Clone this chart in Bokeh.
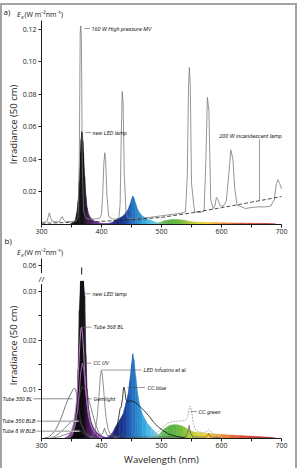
import math
import numpy as np
from bokeh.plotting import figure
from bokeh.layouts import column
from bokeh.models import Label, FixedTicker, NumeralTickFormatter, Range1d, LinearAxis
from bokeh.embed import file_html
from bokeh.resources import INLINE

# ---------------- spectra: wavelength (nm) / irradiance at 50 cm (W m-2 nm-1) ----------------
# 160 W high pressure mercury vapour lamp
mv_wl = [300, 305, 309, 311, 313, 315, 318, 325, 330, 332,
         334.5, 337, 340, 350, 358, 361, 363, 364.5, 365.5, 366.5,
         368, 370, 374, 380, 390, 397, 400, 402, 404, 405.5,
         407, 409, 412, 418, 425, 429, 431, 433, 434.5, 436,
         438, 441, 446, 460, 480, 500, 520, 535, 540, 543,
         545, 546.5, 548, 550, 555, 565, 571, 574, 576.5, 579,
         582, 586, 589, 591.5, 594, 598, 603, 608, 612, 615.5,
         619, 622, 626, 632, 640, 648, 660, 672, 682, 688,
         691, 694, 697, 700]
mv_irr = [0.0010, 0.0010, 0.0015, 0.0040, 0.0068, 0.0040, 0.0016, 0.0012, 0.0014, 0.0030,
          0.0045, 0.0025, 0.0014, 0.0014, 0.0018, 0.0040, 0.0400, 0.1180, 0.1222, 0.1150,
          0.0350, 0.0080, 0.0035, 0.0030, 0.0030, 0.0035, 0.0060, 0.0180, 0.0380, 0.0439,
          0.0380, 0.0180, 0.0045, 0.0030, 0.0030, 0.0040, 0.0120, 0.0550, 0.0817, 0.0750,
          0.0300, 0.0060, 0.0030, 0.0032, 0.0040, 0.0050, 0.0060, 0.0068, 0.0075, 0.0300,
          0.0850, 0.0965, 0.0850, 0.0250, 0.0075, 0.0070, 0.0080, 0.0400, 0.0780, 0.0700,
          0.0150, 0.0095, 0.0110, 0.0163, 0.0150, 0.0110, 0.0110, 0.0140, 0.0300, 0.0457,
          0.0400, 0.0220, 0.0115, 0.0108, 0.0095, 0.0100, 0.0105, 0.0105, 0.0110, 0.0150,
          0.0240, 0.0272, 0.0250, 0.0217]

# 200 W incandescent lamp
inc_wl = [300, 350, 400, 450, 500, 550, 600, 650, 700]
inc_irr = [0.0004, 0.0009, 0.0016, 0.0026, 0.0040, 0.0068, 0.0100, 0.0134, 0.0169]

# new LED lamp (UV)
led_wl = [348, 353, 356, 359, 361, 363, 365, 366, 367, 368, 369, 370, 372, 374, 376, 379, 383, 388, 394, 402, 410]
led_irr = [0, 0.0005, 0.0020, 0.0070, 0.0140, 0.0260, 0.0440, 0.0520, 0.0570, 0.0560, 0.0510,
           0.0440, 0.0290, 0.0170, 0.0100, 0.0055, 0.0032, 0.0018, 0.0009, 0.0003, 0]

# blue LED
blue_wl = [405, 412, 418, 423, 430, 436, 441, 444, 447, 450, 452, 454, 457, 460.5, 464, 468, 475, 482, 488, 495, 502]
blue_irr = [0, 0.0003, 0.0010, 0.0022, 0.0036, 0.0049, 0.0072, 0.0087, 0.0115, 0.0150, 0.0172,
            0.0160, 0.0125, 0.0087, 0.0065, 0.0049, 0.0032, 0.0022, 0.0014, 0.0006, 0]

# green / broad visible LED
green_wl = [490, 495, 500, 505, 510, 515, 520, 525, 530, 535, 540, 545, 550, 555, 560,
            570, 580, 590, 600, 615, 630, 645, 660, 672, 682, 690]
green_irr = [0, 0.0006, 0.0013, 0.0019, 0.0023, 0.0026, 0.0027, 0.0027, 0.0026, 0.0024, 0.0021,
             0.0017, 0.0014, 0.0012, 0.0011, 0.0010, 0.0009, 0.0008, 0.0007, 0.0006, 0.0005,
             0.0004, 0.0003, 0.0002, 0.0001, 0]

# Tube 368 BL
t368_wl = [338, 344, 349, 353, 357, 360, 362, 364, 365.5, 367, 368.5, 370, 372, 374, 377, 380, 384, 389, 395, 402]
t368_irr = [0, 0.0004, 0.0012, 0.0028, 0.0060, 0.0100, 0.0145, 0.0195, 0.0222, 0.0226,
            0.0210, 0.0180, 0.0135, 0.0095, 0.0058, 0.0036, 0.0020, 0.0010, 0.0004, 0]

# CC UV
ccuv_wl = [345, 351, 356, 360, 363, 365.5, 368, 370.5, 373, 376, 379, 383, 388, 394, 400]
ccuv_irr = [0, 0.0008, 0.0025, 0.0055, 0.0095, 0.0135, 0.0153, 0.0140, 0.0105, 0.0068,
            0.0044, 0.0025, 0.0012, 0.0004, 0]

# Gemlight
gem_wl = [340, 348, 354, 359, 363, 367, 371, 375, 378, 382, 386, 390, 395, 400, 403, 405, 407,
          410, 430, 434, 436, 438, 442, 540, 544, 546, 548, 552, 574, 577, 578.5, 580, 583, 600]
gem_irr = [0, 0.0006, 0.0020, 0.0050, 0.0085, 0.0105, 0.0102, 0.0092, 0.0082, 0.0064, 0.0045,
           0.0028, 0.0012, 0.0006, 0.0012, 0.0020, 0.0012, 0.0005, 0.0003, 0.0006, 0.0010,
           0.0006, 0.0002, 0.0002, 0.0012, 0.0026, 0.0012, 0.0002, 0.0002, 0.0005, 0.0009,
           0.0005, 0.0002, 0]

# Tube 350 BL
t350_wl = [305, 312, 318, 324, 329, 334, 340, 344, 348, 352, 355, 357, 359, 362, 365, 368, 372, 378, 386]
t350_irr = [0, 0.0002, 0.0008, 0.0018, 0.0030, 0.0045, 0.0066, 0.0078, 0.0088, 0.0098,
            0.0102, 0.0099, 0.0085, 0.0060, 0.0036, 0.0020, 0.0010, 0.0004, 0]

# Tube 350 BLB
t350b_wl = [315, 322, 330, 338, 345, 350, 355, 360, 364, 368, 372, 377, 384, 392]
t350b_irr = [0, 0.0003, 0.0010, 0.0019, 0.0028, 0.0034, 0.0038, 0.0039, 0.0034, 0.0024,
             0.0014, 0.0007, 0.0002, 0]

# Tube 8 W BLB
t8_wl = [320, 330, 340, 348, 354, 359, 363, 367, 371, 376, 383, 392]
t8_irr = [0, 0.0003, 0.0007, 0.0011, 0.0014, 0.0016, 0.0016, 0.0013, 0.0009, 0.0005, 0.0002, 0]

# LED Infusino et al.
inf_wl = [380, 386, 390, 393, 396, 398, 399.5, 401, 403, 405, 408, 411, 415, 421, 428]
inf_irr = [0, 0.0005, 0.0018, 0.0045, 0.0090, 0.0125, 0.0138, 0.0133, 0.0108, 0.0075,
           0.0038, 0.0018, 0.0007, 0.0002, 0]

# CC blue
ccb_wl = [414, 419, 423, 426, 429, 431, 433, 435, 436.5, 437.5, 439, 440.5, 443, 448, 454,
          460, 466, 472, 479, 487, 495, 504, 512, 520, 530, 540]
ccb_irr = [0, 0.0003, 0.0010, 0.0022, 0.0045, 0.0060, 0.0064, 0.0080, 0.0100, 0.0104,
           0.0095, 0.0080, 0.0073, 0.0076, 0.0074, 0.0069, 0.0062, 0.0055, 0.0045, 0.0032,
           0.0022, 0.0014, 0.0008, 0.0005, 0.0002, 0]

# CC green
ccg_wl = [478, 488, 496, 503, 510, 517, 525, 533, 540, 543.5, 546, 548, 550, 553, 557, 563,
          570, 575, 578, 581, 586, 593, 602]
ccg_irr = [0, 0.0006, 0.0014, 0.0023, 0.0030, 0.0033, 0.0034, 0.0035, 0.0036, 0.0042,
           0.0060, 0.0065, 0.0056, 0.0030, 0.0016, 0.0012, 0.0011, 0.0013, 0.0017, 0.0014,
           0.0008, 0.0003, 0]

x_ticks = [300, 400, 500, 600, 700]
x_minor = [350, 450, 550, 650]
a_ticks = [0.02, 0.04, 0.06, 0.08, 0.10, 0.12]
b_ticks = [0.01, 0.015, 0.02, 0.025, 0.03]
b_labels = ["0.01", "", "0.02", "", "0.03"]
BREAK_TICK = 0.0353          # where the "0.06" tick sits above the axis break

# ---------------- geometry: each panel's data frame fills its whole canvas ----------------
W = 297
PA_H, PB_H = 246, 222
A0, A1 = -0.6 / 1620, -0.6 / 1620 + 204 / 1620      # panel a axis extent
B0, B1 = -0.5 / 4900, -0.5 / 4900 + 180 / 4900      # panel b axis extent


def px_x(px):
    return 300 + (px - 41) / 0.6


def a_y(py):
    return A0 + (224 - py) / 1620


def b_y(py):
    return B0 + (438 - py) / 4900


SPECTRUM = [(300, (10, 10, 10)), (371, (12, 10, 14)), (376, (58, 22, 72)), (386, (92, 42, 114)),
            (400, (104, 52, 140)), (414, (74, 58, 150)), (426, (28, 42, 125)), (438, (26, 60, 150)),
            (448, (30, 92, 180)), (458, (38, 128, 200)), (470, (52, 162, 220)), (484, (92, 196, 232)),
            (494, (120, 200, 200)), (502, (110, 186, 90)), (515, (88, 176, 70)), (530, (108, 184, 64)),
            (545, (160, 198, 58)), (558, (206, 210, 58)), (572, (236, 212, 60)), (588, (242, 178, 58)),
            (605, (236, 136, 58)), (625, (226, 96, 58)), (650, (206, 60, 48)), (680, (176, 38, 38)),
            (700, (150, 30, 30))]


def spectrum_color(wl):
    for (w0, c0), (w1, c1) in zip(SPECTRUM, SPECTRUM[1:]):
        if w0 <= wl <= w1:
            t = (wl - w0) / (w1 - w0)
            return "#%02x%02x%02x" % tuple(round(a + (b - a) * t) for a, b in zip(c0, c1))
    return "#%02x%02x%02x" % SPECTRUM[-1][1]


def spectral_fill(p, wl, vals, cap=None):
    xs, ys, cols = [], [], []
    for i in range(len(wl) - 1):
        v0, v1 = vals[i], vals[i + 1]
        if cap is not None:
            v0, v1 = min(v0, cap), min(v1, cap)
        xs.append([wl[i], wl[i], wl[i + 1], wl[i + 1]])
        ys.append([0, v0, v1, 0])
        cols.append(spectrum_color((wl[i] + wl[i + 1]) / 2))
    p.patches(xs=xs, ys=ys, fill_color=cols, line_color=cols, line_width=0.5)


def note(p, x, y, text, size="5.6px", italic=True, align="left", font="Roboto",
         color="#222222", angle=0.0):
    p.add_layout(Label(x=x, y=y, text=text, text_font=font, text_font_size=size,
                       text_font_style="italic" if italic else "normal", text_align=align,
                       text_baseline="middle", text_color=color, angle=angle))


def unit_header(p, yfun, py):
    # "E_e (W m-2 nm-1)" written above the y axis
    note(p, px_x(16.5), yfun(py), "E", size="7px", font="Open Sans", color="#111111")
    note(p, px_x(20.8), yfun(py + 2), "e", size="5px", font="Open Sans", color="#111111")
    note(p, px_x(24), yfun(py), "(W m⁻²nm⁻¹)", size="7px", italic=False, font="Open Sans", color="#111111")


def make_fig(height, y_lo, y_hi, axis_lo, axis_hi, y_ticks):
    p = figure(width=W, height=height, x_range=Range1d(px_x(0), px_x(W)), y_range=Range1d(y_lo, y_hi),
               output_backend="svg", toolbar_location=None, x_axis_location=None, y_axis_location=None,
               min_border=0, background_fill_color=None, border_fill_color=None, outline_line_color=None)
    p.grid.visible = False
    xa = LinearAxis(fixed_location=axis_lo, bounds=(300, 700),
                    ticker=FixedTicker(ticks=x_ticks, minor_ticks=x_minor))
    ya = LinearAxis(fixed_location=300, bounds=(axis_lo, axis_hi), ticker=FixedTicker(ticks=y_ticks))
    for ax in (xa, ya):
        ax.axis_line_color = "#1a1a1a"
        ax.axis_line_width = 1
        ax.major_tick_line_color = "#1a1a1a"
        ax.minor_tick_line_color = "#1a1a1a"
        ax.major_tick_out = 3
        ax.major_tick_in = 0
        ax.minor_tick_out = 3
        ax.minor_tick_in = 0
        ax.major_label_text_font = "Open Sans"
        ax.major_label_text_font_size = "7px"
        ax.major_label_text_color = "#222222"
    xa.major_label_standoff = 1
    ya.major_label_standoff = 2
    p.add_layout(xa, "below")
    p.add_layout(ya, "left")
    return p, xa, ya


# ---------------- panel a ----------------
pa, xa_a, ya_a = make_fig(PA_H, a_y(PA_H), a_y(0), A0, A1, a_ticks)
ya_a.formatter = NumeralTickFormatter(format="0.00")

spectral_fill(pa, green_wl, green_irr)
spectral_fill(pa, blue_wl, blue_irr)
spectral_fill(pa, led_wl, led_irr)
pa.line(mv_wl, mv_irr, line_color="#7a7a7a", line_width=0.8)
pa.line(inc_wl, inc_irr, line_color="#222222", line_width=0.8, line_dash="4 2")

leader = dict(line_color="#555555", line_width=0.6)
pa.segment(x0=[px_x(84), px_x(85)], y0=[a_y(28), a_y(132)],
           x1=[px_x(89.5), px_x(90.5)], y1=[a_y(28), a_y(132)], **leader)
note(pa, px_x(91), a_y(28), "160 W High pressure MV")
note(pa, px_x(92), a_y(132), "new LED lamp")
inc_x = px_x(259)
pa.segment(x0=[inc_x], y0=[a_y(139)], x1=[inc_x], y1=[float(np.interp(inc_x, inc_wl, inc_irr))], **leader)
note(pa, px_x(250), a_y(135), "200 W incandescent lamp", align="center")

note(pa, px_x(12.5), a_y(124), "Irradiance (50 cm)", size="9.5px", italic=False, font="Open Sans",
     align="center", angle=math.pi / 2)
note(pa, px_x(3), a_y(11), "a)", size="8px", italic=False, font="Open Sans", color="#111111")
unit_header(pa, a_y, 14)
note(pa, px_x(4), a_y(240), "b)", size="8px", italic=False, font="Open Sans", color="#111111")

# ---------------- panel b ----------------
pb, xa_b, ya_b = make_fig(PB_H, b_y(PA_H + PB_H), b_y(PA_H), B0, B1, b_ticks + [BREAK_TICK])
overrides = {t: s for t, s in zip(b_ticks, b_labels)}
overrides[BREAK_TICK] = "0.06"
ya_b.major_label_overrides = overrides

CLIP = 0.032
spectral_fill(pb, green_wl, green_irr)
spectral_fill(pb, blue_wl, blue_irr)
pb.varea(x=t368_wl, y1=0, y2=t368_irr, fill_color="#5b2b73", fill_alpha=0.85)
spectral_fill(pb, led_wl, led_irr, cap=CLIP)

peak_wl = led_wl[int(np.argmax(led_irr))]
pb.segment(x0=[peak_wl], y0=[b_y(274)], x1=[peak_wl], y1=[b_y(267)], line_color="#111111", line_width=1)

pb.line(t350_wl, t350_irr, line_color="#444444", line_width=0.7)
pb.line(t350b_wl, t350b_irr, line_color="#555555", line_width=0.7)
pb.line(t8_wl, t8_irr, line_color="#555555", line_width=0.7)
pb.line(gem_wl, gem_irr, line_color="#555555", line_width=0.7)
pb.line(inf_wl, inf_irr, line_color="#777777", line_width=0.8)
pb.line(ccg_wl, ccg_irr, line_color="#a8a8a8", line_width=0.9, line_dash="2 1")
pb.line(ccb_wl, ccb_irr, line_color="#111111", line_width=0.8)
pb.line(t368_wl, t368_irr, line_color="#c48ccc", line_width=0.9)
pb.line(ccuv_wl, ccuv_irr, line_color="#a46ab8", line_width=0.9)

# labels with horizontal leaders: (text, leader start px, leader end px, label px, y px)
b_notes = [("new LED lamp", 84, 90, 92, 293.3),
           ("Tube 368 BL", 81, 91, 93, 326.7),
           ("CC UV", 82.7, 90.7, 93, 362.7),
           ("LED Infusino et al.", 101, 141, 143, 369.5),
           ("CC blue", 127, 144.5, 147, 387),
           ("Gemlight", 87, 91.3, 93, 398.3),
           ("CC green", 190, 196.5, 198, 411)]
pb.segment(x0=[px_x(n[1]) for n in b_notes], y0=[b_y(n[4]) for n in b_notes],
           x1=[px_x(n[2]) for n in b_notes], y1=[b_y(n[4]) for n in b_notes], **leader)
for text, _, _, lx, ly in b_notes:
    note(pb, px_x(lx), b_y(ly), text)

# lamps labelled to the left of the axis: (text, label right edge px, leader end px, y px, colour, width)
left_notes = [("Tube 350 BL", 32, 72, 398.3, "#555555", 0.7),
              ("Tube 350 BLB", 35, 78, 420.7, "#b4b4b4", 1.6),
              ("Tube 8 W BLB", 35, 79, 430.7, "#b4b4b4", 1.6)]
for text, lx, x_end, ly, col, lw in left_notes:
    pb.segment(x0=[px_x(lx + 1)], y0=[b_y(ly)], x1=[px_x(x_end)], y1=[b_y(ly)],
               line_color=col, line_width=lw)
    note(pb, px_x(lx), b_y(ly), text, align="right")

pb.add_layout(Label(x=300, y=b_y(278), text="//", text_align="center", text_baseline="middle",
                    text_font="Open Sans", text_font_size="8px", text_color="#222222",
                    background_fill_color="white"))
unit_header(pb, b_y, 252)
note(pb, px_x(12.5), b_y(345), "Irradiance (50 cm)", size="9.5px", italic=False, font="Open Sans",
     align="center", angle=math.pi / 2)
note(pb, 500, b_y(459), "Wavelength (nm)", size="9.5px", italic=False, font="Open Sans", align="center")

frame_col = "#a3a3a3"
grad = f"linear-gradient({frame_col}, {frame_col})"
layout = column(pa, pb, styles={
    "background": f"{grad} 0px 3px / 2px 470px no-repeat, "
                  f"{grad} 0px 3px / 297px 2px no-repeat, "
                  f"{grad} 295px 3px / 2px 470px no-repeat, #ffffff"})

open("out.html", "w").write(file_html(layout, INLINE))
